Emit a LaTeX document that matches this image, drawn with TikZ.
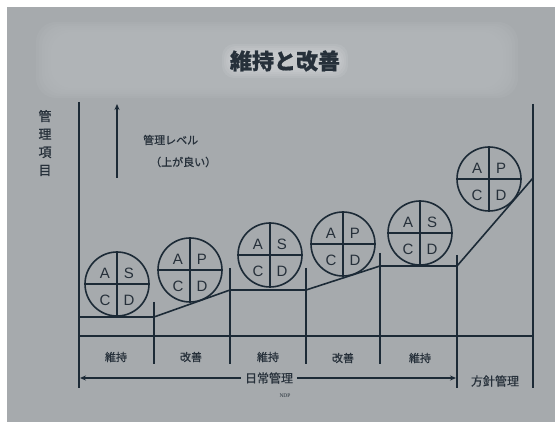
\documentclass[tikz,border=0pt]{standalone}
\usepackage{fontspec}
\setmainfont{Liberation Sans}
\newfontfamily\jp[FakeBold=0.8]{Noto Sans CJK JP}
\newfontfamily\ndpfont{Liberation Serif}
\usetikzlibrary{arrows.meta,calc}
\definecolor{bg}{RGB}{166,170,173}
\definecolor{band}{RGB}{180,184,187}
\definecolor{ink}{RGB}{28,42,54}
\definecolor{txt}{RGB}{38,48,58}
\tikzset{
  axis/.style={draw=ink, line width=1.8pt},
  lvl/.style={draw=ink, line width=1.6pt},
  pdca/.style={circle, draw=ink, line width=1.6pt, minimum size=64pt, inner sep=0pt},
  quad/.style={text=txt, font=\fontsize{15}{15}\selectfont, inner sep=0pt},
  lab/.style={text=txt, font=\jp\fontsize{11}{11}\selectfont, inner sep=0pt},
}
\newcommand{\pdcacircle}[4]{% name, x, y, second letter
  \node[pdca] (#1) at (#2,#3) {};
  \draw[ink, line width=1.4pt] (#1.north) -- (#1.south);
  \draw[ink, line width=1.4pt] (#1.west) -- (#1.east);
  \node[quad] (#1a) at ($(#1)+(-12,-11)$) {A};
  \node[quad] (#1b) at ($(#1)+(12,-11)$) {#4};
  \node[quad] (#1c) at ($(#1)+(-12,16)$) {C};
  \node[quad] (#1d) at ($(#1)+(12,16)$) {D};
}
\begin{document}
\begin{tikzpicture}[x=1pt,y=-1pt]
\useasboundingbox (0,0) rectangle (555,422);
\fill[white] (0,0) rectangle (555,422);
\fill[bg] (7,7) rectangle (555,422);
% soft title band
\foreach \i in {0,...,5}
  \fill[band, opacity=0.25, rounded corners=20pt] (36+\i*3,22+\i*2) rectangle (518-\i*3,98-\i*2);
% soft glow behind title
\foreach \i in {0,...,4}
  \fill[white, opacity=0.07, rounded corners=12pt] (222+\i*2,44+\i*2) rectangle (348-\i*2,78-\i*2);
\node[text=txt, font=\jp\bfseries\fontsize{22}{22}\selectfont, inner sep=0pt] (title) at (285,61) {維持と改善};

% axes
\coordinate (lt) at (79,102);
\coordinate (lb) at (79,388);
\coordinate (rt) at (533,104);
\coordinate (rb) at (533,388);
\draw[axis] (lt) -- (lb);
\draw[axis] (rt) -- (rb);

% vertical label
\node[lab, font=\jp\fontsize{13}{13}\selectfont, align=center] (ylab) at (45,143) {管\\[5pt]理\\[5pt]項\\[5pt]目};

% level arrow
\coordinate (ab) at (117,178);
\coordinate (at) at (117,104);
\draw[ink, line width=1.6pt, -{Stealth[length=6pt,width=5pt]}] (ab) -- (at);
\node[lab, anchor=west] (lv1) at (143,140) {管理レベル};
\node[lab, anchor=west] (lv2) at (150,162) {（上が良い）};

% level line
\coordinate (p0) at (79,317);
\coordinate (p1) at (154,317);
\coordinate (p2) at (230,290);
\coordinate (p3) at (306,290);
\coordinate (p4) at (380,266);
\coordinate (p5) at (457,266);
\coordinate (p6) at (533,178);
\draw[lvl] (p0) -- (p1) -- (p2) -- (p3) -- (p4) -- (p5) -- (p6);

% dividers
\coordinate (d1t) at (154,302); \coordinate (d1b) at (154,364);
\coordinate (d2t) at (230,268); \coordinate (d2b) at (230,364);
\coordinate (d3t) at (306,268); \coordinate (d3b) at (306,364);
\coordinate (d4t) at (380,253); \coordinate (d4b) at (380,364);
\coordinate (d5t) at (457,255); \coordinate (d5b) at (457,388);
\draw[lvl] (d1t) -- (d1b);
\draw[lvl] (d2t) -- (d2b);
\draw[lvl] (d3t) -- (d3b);
\draw[lvl] (d4t) -- (d4b);
\draw[lvl] (d5t) -- (d5b);
\coordinate (hl) at (79,336);
\coordinate (hr) at (533,336);
\draw[lvl] (hl) -- (hr);

% circles
\pdcacircle{c1}{117}{284}{S}
\pdcacircle{c2}{190}{270}{P}
\pdcacircle{c3}{270}{255}{S}
\pdcacircle{c4}{343}{244}{P}
\pdcacircle{c5}{420}{233}{S}
\pdcacircle{c6}{489}{179}{P}

% column labels
\node[lab] (k1) at (116,357) {維持};
\node[lab] (k2) at (191,357) {改善};
\node[lab] (k3) at (268,357) {維持};
\node[lab] (k4) at (343,358) {改善};
\node[lab] (k5) at (420,358) {維持};

% bottom
\node[lab, font=\jp\fontsize{12}{12}\selectfont] (daily) at (269,378) {日常管理};
\node[lab, font=\jp\fontsize{12}{12}\selectfont] (policy) at (495,381) {方針管理};
\node[text=txt, font=\ndpfont\fontsize{5.5}{5.5}\selectfont, inner sep=0pt] (ndp) at (285,396) {NDP};
\coordinate (bl) at (80,378);
\coordinate (br) at (456,378);
\draw[ink, line width=1.4pt, -{Stealth[length=6pt,width=5pt]}] (daily.west) ++(-4,0) -- (bl);
\draw[ink, line width=1.4pt, -{Stealth[length=6pt,width=5pt]}] (daily.east) ++(4,0) -- (br);
\end{tikzpicture}
\end{document}
